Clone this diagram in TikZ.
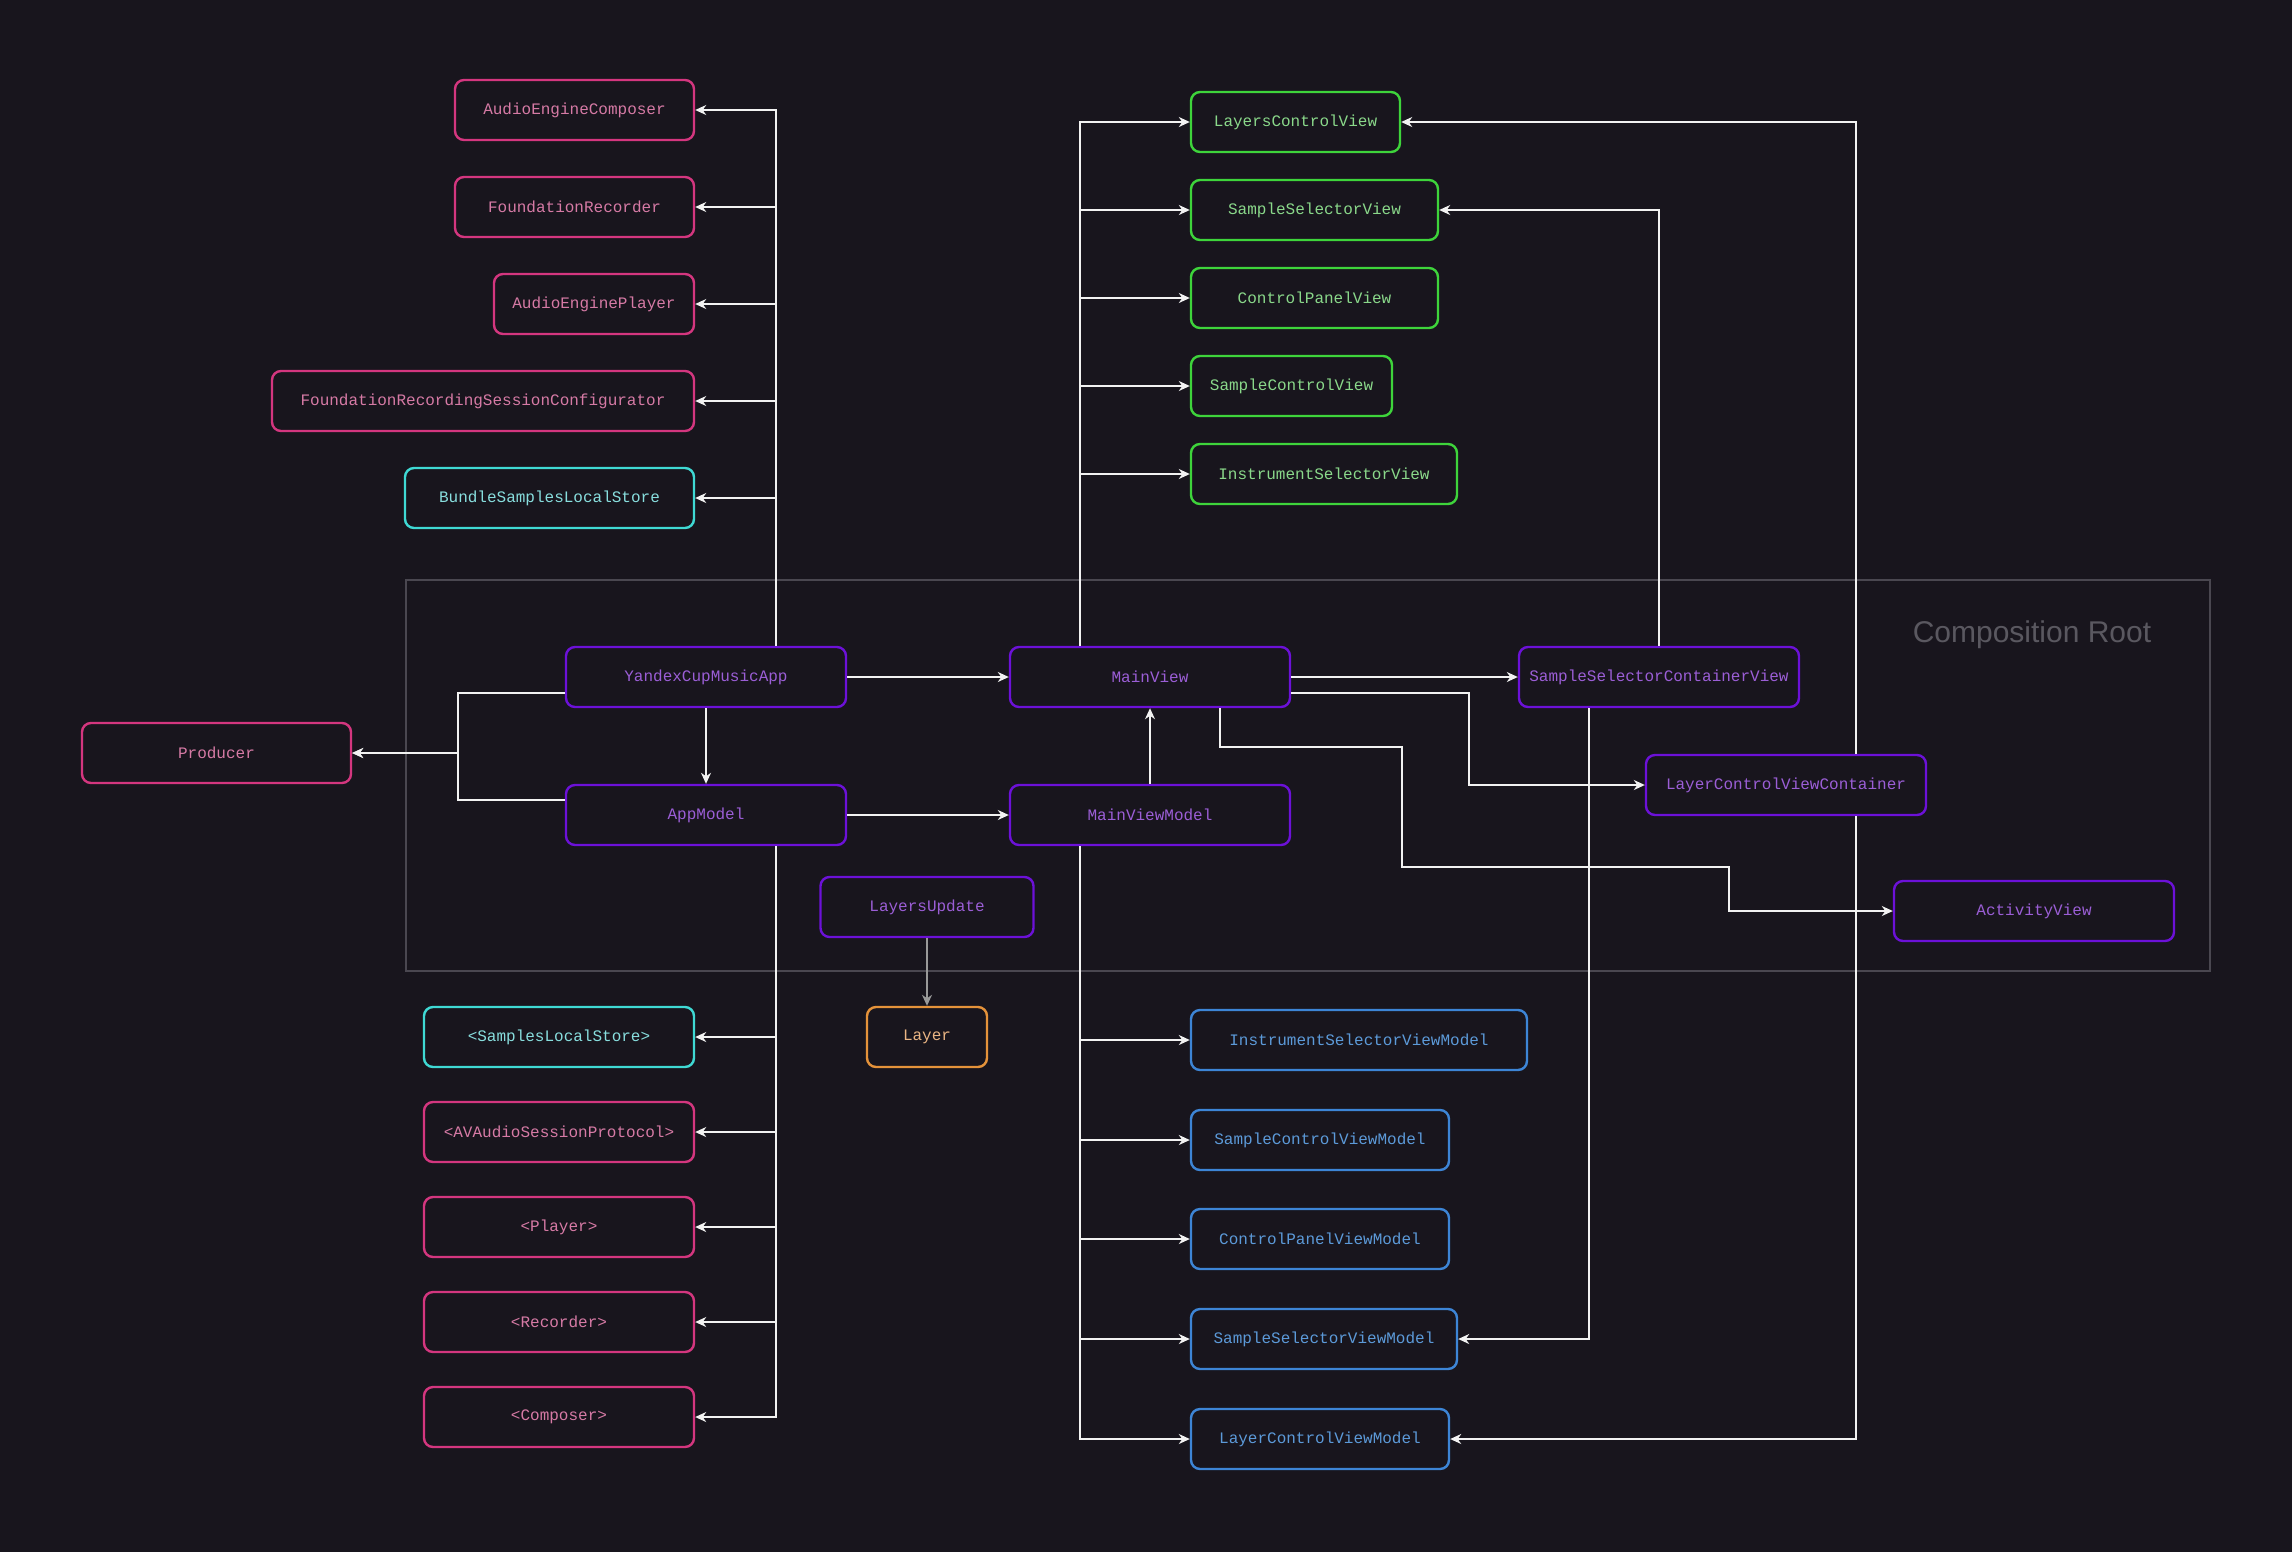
\documentclass[tikz,border=0pt]{standalone}
\usepackage{fontspec}
\usetikzlibrary{arrows.meta,calc}
\newfontfamily\boxfont{Liberation Mono}
\newfontfamily\titlefont{Liberation Sans}

\definecolor{bg}{HTML}{18151D}
\definecolor{pinkB}{HTML}{D4367F}
\definecolor{pinkT}{HTML}{D67AA5}
\definecolor{purpB}{HTML}{6C11D8}
\definecolor{purpT}{HTML}{9B5ED6}
\definecolor{greenB}{HTML}{3ED43B}
\definecolor{greenT}{HTML}{8AD88A}
\definecolor{cyanB}{HTML}{3FD9D4}
\definecolor{cyanT}{HTML}{88DEDE}
\definecolor{blueB}{HTML}{3D85D6}
\definecolor{blueT}{HTML}{5C9AD9}
\definecolor{orangeB}{HTML}{E4923A}
\definecolor{orangeT}{HTML}{EAB584}
\definecolor{frameC}{HTML}{4A4750}
\definecolor{titleC}{HTML}{5A5860}
\definecolor{linkC}{HTML}{F2F2F2}

\tikzset{
  box/.style={draw, fill=bg, rounded corners=9pt, line width=2.4pt,
    minimum height=60pt, inner sep=0pt, anchor=center,
    font=\boxfont\fontsize{16pt}{19pt}\selectfont},
  pinkbox/.style={box, draw=pinkB, text=pinkT},
  purpbox/.style={box, draw=purpB, text=purpT},
  greenbox/.style={box, draw=greenB, text=greenT},
  cyanbox/.style={box, draw=cyanB, text=cyanT},
  bluebox/.style={box, draw=blueB, text=blueT},
  orangebox/.style={box, draw=orangeB, text=orangeT},
  link/.style={draw=linkC, line width=1.5pt,
    -{Stealth[length=11pt,width=10pt,inset=3.5pt]}},
}

\begin{document}
\begin{tikzpicture}[x=1pt,y=-1pt]
  % canvas
  \useasboundingbox (0,0) rectangle (2292,1551);
  \fill[bg] (-3,-3) rectangle (2295,1554);

  % composition root frame
  \draw[frameC, line width=1.3pt] (406,580) rectangle (2210,971);
  \node[text=titleC, font=\titlefont\fontsize{30pt}{36pt}\selectfont] (crtitle) at (2032,635) {Composition Root};

  % bus x positions
  \coordinate (busL) at (776,0);
  \coordinate (busR) at (1080,0);
  \coordinate (kneeA) at (1469,0);

  % nodes: left top
  \node[pinkbox, minimum width=239pt] (aec) at (574.5,110) {AudioEngineComposer};
  \node[pinkbox, minimum width=239pt] (fr) at (574.5,207) {FoundationRecorder};
  \node[pinkbox, minimum width=200pt] (aep) at (594,304) {AudioEnginePlayer};
  \node[pinkbox, minimum width=422pt] (frsc) at (483,401) {FoundationRecordingSessionConfigurator};
  \node[cyanbox, minimum width=289pt] (bsls) at (549.5,498) {BundleSamplesLocalStore};

  % nodes: left bottom
  \node[cyanbox, minimum width=270pt] (sls) at (559,1037) {<SamplesLocalStore>};
  \node[pinkbox, minimum width=270pt] (avs) at (559,1132) {<AVAudioSessionProtocol>};
  \node[pinkbox, minimum width=270pt] (plr) at (559,1227) {<Player>};
  \node[pinkbox, minimum width=270pt] (rec) at (559,1322) {<Recorder>};
  \node[pinkbox, minimum width=270pt] (cmp) at (559,1417) {<Composer>};

  % nodes: core
  \node[pinkbox, minimum width=269pt] (prod) at (216.5,753) {Producer};
  \node[purpbox, minimum width=280pt] (ycma) at (706,677) {YandexCupMusicApp};
  \node[purpbox, minimum width=280pt] (appm) at (706,815) {AppModel};
  \node[purpbox, minimum width=280pt] (mv) at (1150,677) {MainView};
  \node[purpbox, minimum width=280pt] (mvm) at (1150,815) {MainViewModel};
  \node[purpbox, minimum width=213pt] (lu) at (927,907) {LayersUpdate};
  \node[orangebox, minimum width=120pt] (lay) at (927,1037) {Layer};
  \node[purpbox, minimum width=280pt] (sscv) at (1659,677) {SampleSelectorContainerView};
  \node[purpbox, minimum width=280pt] (lcvc) at (1786,785) {LayerControlViewContainer};
  \node[purpbox, minimum width=280pt] (av) at (2034,911) {ActivityView};

  % nodes: views
  \node[greenbox, minimum width=209pt] (lcv) at (1295.5,122) {LayersControlView};
  \node[greenbox, minimum width=247pt] (ssv) at (1314.5,210) {SampleSelectorView};
  \node[greenbox, minimum width=247pt] (cpv) at (1314.5,298) {ControlPanelView};
  \node[greenbox, minimum width=201pt] (scv) at (1291.5,386) {SampleControlView};
  \node[greenbox, minimum width=266pt] (isv) at (1324,474) {InstrumentSelectorView};

  % nodes: view models
  \node[bluebox, minimum width=336pt] (isvm) at (1359,1040) {InstrumentSelectorViewModel};
  \node[bluebox, minimum width=258pt] (scvm) at (1320,1140) {SampleControlViewModel};
  \node[bluebox, minimum width=258pt] (cpvm) at (1320,1239) {ControlPanelViewModel};
  \node[bluebox, minimum width=266pt] (ssvm) at (1324,1339) {SampleSelectorViewModel};
  \node[bluebox, minimum width=258pt] (lcvm) at (1320,1439) {LayerControlViewModel};

  % connectors: app -> services
  \foreach \t in {aec,fr,aep,frsc,bsls}
    \draw[link] (busL |- ycma.north) |- (\t.east);
  \foreach \t in {sls,avs,plr,rec,cmp}
    \draw[link] (busL |- appm.south) |- (\t.east);

  % connectors: producer
  \draw[link] ([yshift=-16pt]ycma.west) -- ++(-107pt,0) |- (prod.east);
  \draw[link] ([yshift=15pt]appm.west) -- ++(-107pt,0) |- (prod.east);

  % connectors: core
  \draw[link] (ycma.east) -- (mv.west);
  \draw[link] (ycma.south) -- (appm.north);
  \draw[link] (appm.east) -- (mvm.west);
  \draw[link] (mvm.north) -- (mv.south);
  \draw[link] (mv.east) -- (sscv.west);
  \draw[link] ([yshift=-16pt]mv.east) -| (kneeA |- lcvc.west) -- (lcvc.west);
  \draw[link] ([xshift=70pt]mv.south) |- (1402,747) |- (1729,867) |- (av.west);
  \draw[link, draw=gray!80] (lu.south) -- (lay.north);

  % connectors: main view -> views
  \foreach \t in {lcv,ssv,cpv,scv,isv}
    \draw[link] (busR |- mv.north) |- (\t.west);
  \foreach \t in {isvm,scvm,cpvm,ssvm,lcvm}
    \draw[link] (busR |- mvm.south) |- (\t.west);

  % connectors: containers
  \draw[link] (sscv.north) |- (ssv.east);
  \draw[link] ([xshift=-70pt]sscv.south) |- (ssvm.east);
  \draw[link] ([xshift=70pt]lcvc.north) |- (lcv.east);
  \draw[link] ([xshift=70pt]lcvc.south) |- (lcvm.east);
\end{tikzpicture}
\end{document}
